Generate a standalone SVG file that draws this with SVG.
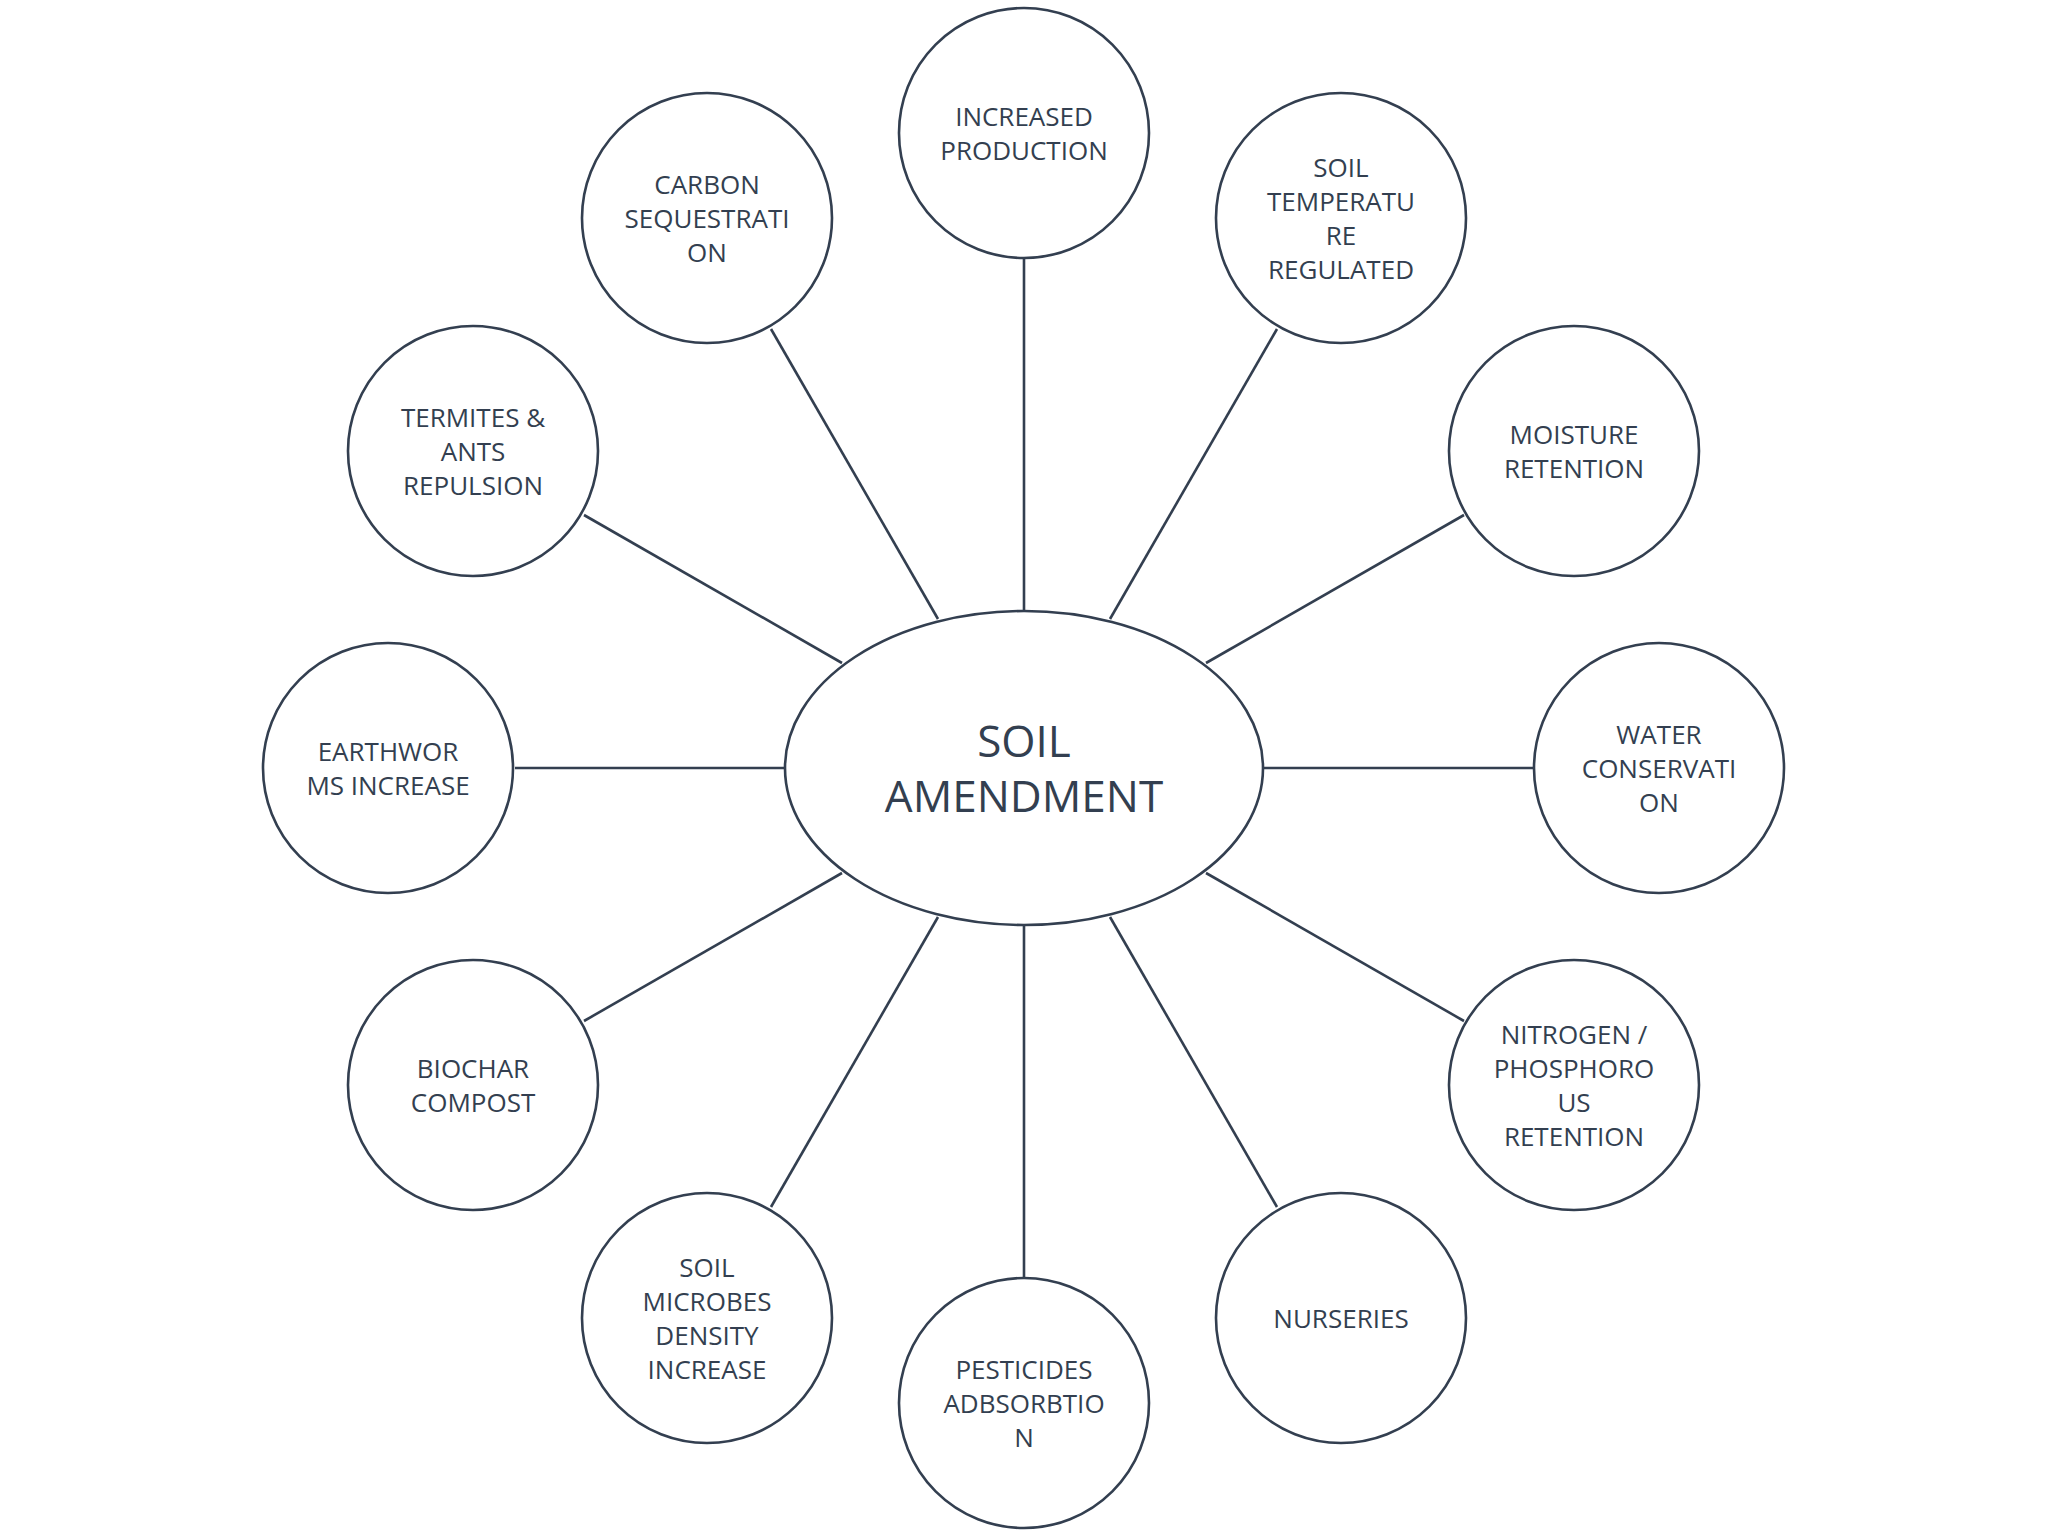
<svg xmlns="http://www.w3.org/2000/svg" width="2048" height="1536" viewBox="0 0 2048 1536">
<style>
.n{fill:#fff;stroke:#333f50;stroke-width:2.6}
.t{font-family:"Open Sans","Liberation Sans",sans-serif;font-size:26px;fill:#333f50;text-anchor:middle;dominant-baseline:central}
.c{font-size:44px}
#connectors line{stroke:#333f50;stroke-width:2.6}
</style>
<rect width="2048" height="1536" fill="#fff"/>
<g id="connectors">
<line x1="1024" y1="259" x2="1024" y2="610"/>
<line x1="771" y1="329" x2="938" y2="619"/>
<line x1="1277" y1="329" x2="1110" y2="619"/>
<line x1="584" y1="515" x2="842" y2="663"/>
<line x1="1464" y1="515" x2="1206" y2="663"/>
<line x1="515" y1="768" x2="785" y2="768"/>
<line x1="1533" y1="768" x2="1263" y2="768"/>
<line x1="584" y1="1021" x2="842" y2="873"/>
<line x1="1464" y1="1021" x2="1206" y2="873"/>
<line x1="771" y1="1207" x2="938" y2="917"/>
<line x1="1277" y1="1207" x2="1110" y2="917"/>
<line x1="1024" y1="1277" x2="1024" y2="926"/>
</g>
<g id="center"><ellipse class="n" cx="1024" cy="768" rx="239" ry="157"/><text class="t c" x="1024" y="740">SOIL</text><text class="t c" x="1024" y="795">AMENDMENT</text></g>
<g id="n1"><circle class="n" cx="1024" cy="133" r="125"/><text class="t" x="1024" y="116">INCREASED</text><text class="t" x="1024" y="150">PRODUCTION</text></g>
<g id="n2"><circle class="n" cx="707" cy="218" r="125"/><text class="t" x="707" y="184">CARBON</text><text class="t" x="707" y="218">SEQUESTRATI</text><text class="t" x="707" y="252">ON</text></g>
<g id="n3"><circle class="n" cx="1341" cy="218" r="125"/><text class="t" x="1341" y="167">SOIL</text><text class="t" x="1341" y="201">TEMPERATU</text><text class="t" x="1341" y="235">RE</text><text class="t" x="1341" y="269">REGULATED</text></g>
<g id="n4"><circle class="n" cx="473" cy="451" r="125"/><text class="t" x="473" y="417">TERMITES &amp;</text><text class="t" x="473" y="451">ANTS</text><text class="t" x="473" y="485">REPULSION</text></g>
<g id="n5"><circle class="n" cx="1574" cy="451" r="125"/><text class="t" x="1574" y="434">MOISTURE</text><text class="t" x="1574" y="468">RETENTION</text></g>
<g id="n6"><circle class="n" cx="388" cy="768" r="125"/><text class="t" x="388" y="751">EARTHWOR</text><text class="t" x="388" y="785">MS INCREASE</text></g>
<g id="n7"><circle class="n" cx="1659" cy="768" r="125"/><text class="t" x="1659" y="734">WATER</text><text class="t" x="1659" y="768">CONSERVATI</text><text class="t" x="1659" y="802">ON</text></g>
<g id="n8"><circle class="n" cx="473" cy="1085" r="125"/><text class="t" x="473" y="1068">BIOCHAR</text><text class="t" x="473" y="1102">COMPOST</text></g>
<g id="n9"><circle class="n" cx="1574" cy="1085" r="125"/><text class="t" x="1574" y="1034">NITROGEN /</text><text class="t" x="1574" y="1068">PHOSPHORO</text><text class="t" x="1574" y="1102">US</text><text class="t" x="1574" y="1136">RETENTION</text></g>
<g id="n10"><circle class="n" cx="707" cy="1318" r="125"/><text class="t" x="707" y="1267">SOIL</text><text class="t" x="707" y="1301">MICROBES</text><text class="t" x="707" y="1335">DENSITY</text><text class="t" x="707" y="1369">INCREASE</text></g>
<g id="n11"><circle class="n" cx="1341" cy="1318" r="125"/><text class="t" x="1341" y="1318">NURSERIES</text></g>
<g id="n12"><circle class="n" cx="1024" cy="1403" r="125"/><text class="t" x="1024" y="1369">PESTICIDES</text><text class="t" x="1024" y="1403">ADBSORBTIO</text><text class="t" x="1024" y="1437">N</text></g>
</svg>
